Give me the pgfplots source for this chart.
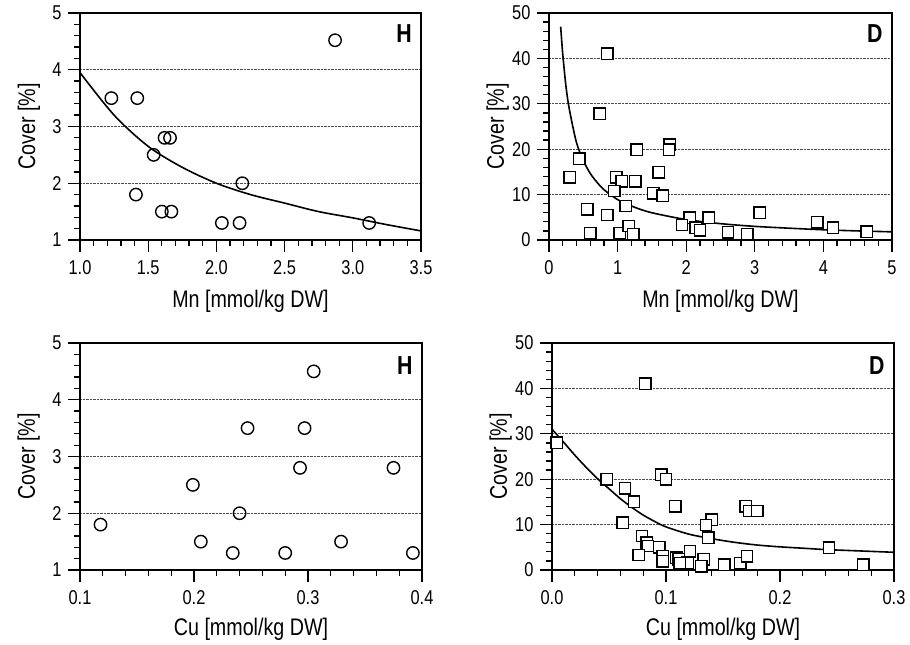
\documentclass[border=0pt]{standalone}
\usepackage{fontspec}
\setmainfont{Liberation Sans}[FakeStretch=0.82]
\usepackage{pgfplots}
\pgfplotsset{compat=1.18}
\pgfplotsset{
  panel/.style={
    scale only axis,
    width=341pt, height=227pt,
    axis line style={line width=1.5pt},
    every tick/.style={black, line width=1.3pt},
    tick align=outside,
    major tick length=12pt,
    minor tick length=6pt,
    xtick pos=left, ytick pos=left,
    minor x tick num=4, minor y tick num=4,
    ymajorgrids,
    major grid style={densely dotted, black!70, line width=0.9pt},
    tick label style={font=\fontsize{20}{22}\selectfont},
    xticklabel style={yshift=-5pt},
    yticklabel style={xshift=-3pt},
    label style={font=\fontsize{24}{27}\selectfont},
    /pgf/number format/assume math mode=true,
    xlabel style={at={(axis description cs:0.5,-0.27)}, anchor=center},
    ylabel style={at={(axis description cs:-0.15,0.5)}, anchor=center},
    ylabel={Cover [\%]},
    anchor=south west,
  },
  circ/.style={only marks, mark=o, mark size=6.2pt, mark options={line width=1.4pt, fill=white}},
  sq/.style={only marks, mark=square*, mark size=5.7pt, mark options={line width=1.4pt, fill=white, draw=black}},
  fit/.style={no marks, smooth, black, line width=1.6pt},
}
\begin{document}
\begin{tikzpicture}
\useasboundingbox (0,0) rectangle (910pt,645pt);
% ---------- top left: H, Mn
\begin{axis}[panel, at={(80pt,405pt)},
  xmin=1, xmax=3.5, ymin=1, ymax=5,
  xtick={1,1.5,2,2.5,3,3.5}, ytick={1,2,3,4,5},
  xticklabel style={/pgf/number format/.cd, fixed, fixed zerofill, precision=1},
  xlabel={Mn [mmol/kg DW]}]
\addplot[fit] coordinates {(1.0,3.95) (1.25,3.2) (1.5,2.65) (1.75,2.28) (2.0,2.0) (2.25,1.8) (2.5,1.65) (2.75,1.5) (3.0,1.39) (3.25,1.27) (3.5,1.16)};
\addplot[circ] coordinates {(1.23,3.5) (1.42,3.5) (2.87,4.52) (1.62,2.8) (1.66,2.8) (1.54,2.5) (2.19,2.0) (1.41,1.8) (1.60,1.5) (1.67,1.5) (2.04,1.3) (2.17,1.3) (3.12,1.3)};
\node[font=\bfseries\fontsize{26}{28}\selectfont] at (rel axis cs:0.95,0.91) {H};
\end{axis}
% ---------- top right: D, Mn
\begin{axis}[panel, at={(549pt,405pt)}, width=343pt,
  xmin=0, xmax=5, ymin=0, ymax=50,
  xtick={0,1,2,3,4,5}, ytick={0,10,20,30,40,50},
  xlabel={Mn [mmol/kg DW]}]
\addplot[fit] coordinates {(0.17,47) (0.2,41) (0.25,33.5) (0.3,28.5) (0.4,21.5) (0.5,17.5) (0.6,14.7) (0.7,12.7) (0.8,11.1) (1.0,8.9) (1.25,7.2) (1.5,6.0) (2.0,4.5) (2.5,3.6) (3.0,3.0) (3.5,2.6) (4.0,2.25) (4.5,2.0) (5.0,1.8)};
\addplot[sq] coordinates {(0.85,41) (0.74,27.8) (0.44,17.9) (0.30,13.8) (1.28,19.9) (1.76,21) (1.75,19.9) (1.60,14.9) (0.98,13.8) (1.06,12.9) (1.26,12.9) (0.95,10.8) (1.52,10.3) (1.66,9.8) (1.12,7.5) (0.56,6.8) (0.85,5.5) (0.60,1.5) (1.03,1.5) (1.16,3.1) (1.23,1.3) (2.05,4.9) (1.94,3.3) (2.14,2.7) (2.20,2.1) (2.33,4.9) (2.61,1.7) (2.89,1.3) (3.07,6.0) (3.91,3.9) (4.14,2.7) (4.63,1.8)};
\node[font=\bfseries\fontsize{26}{28}\selectfont] at (rel axis cs:0.95,0.91) {D};
\end{axis}
% ---------- bottom left: H, Cu
\begin{axis}[panel, at={(80pt,75pt)}, width=342pt,
  xmin=0.1, xmax=0.4, ymin=1, ymax=5,
  xtick={0.1,0.2,0.3,0.4}, ytick={1,2,3,4,5},
  xticklabel style={/pgf/number format/.cd, fixed, fixed zerofill, precision=1},
  xlabel style={at={(axis description cs:0.5,-0.262)}},
  xlabel={Cu [mmol/kg DW]}]
\addplot[circ] coordinates {(0.118,1.8) (0.199,2.5) (0.206,1.5) (0.240,2.0) (0.247,3.5) (0.234,1.3) (0.280,1.3) (0.293,2.8) (0.297,3.5) (0.305,4.5) (0.329,1.5) (0.375,2.8) (0.392,1.3)};
\node[font=\bfseries\fontsize{26}{28}\selectfont] at (rel axis cs:0.95,0.90) {H};
\end{axis}
% ---------- bottom right: D, Cu
\begin{axis}[panel, at={(552pt,75pt)}, width=342pt,
  xmin=0, xmax=0.3, ymin=0, ymax=50,
  xtick={0,0.1,0.2,0.3}, ytick={0,10,20,30,40,50},
  xticklabel style={/pgf/number format/.cd, fixed, fixed zerofill, precision=1},
  xlabel style={at={(axis description cs:0.5,-0.262)}},
  xlabel={Cu [mmol/kg DW]}]
\addplot[fit] coordinates {(0,31) (0.01,28.2) (0.02,25.3) (0.03,22.6) (0.04,20.1) (0.05,17.9) (0.06,15.7) (0.07,13.8) (0.08,12.1) (0.09,10.7) (0.10,9.5) (0.12,7.9) (0.14,6.9) (0.16,6.1) (0.18,5.5) (0.20,5.1) (0.22,4.8) (0.24,4.5) (0.26,4.3) (0.28,4.1) (0.30,3.9)};
\addplot[sq] coordinates {(0.082,41) (0.004,28) (0.048,20) (0.064,18) (0.072,15) (0.062,10.4) (0.096,21) (0.100,20) (0.108,14) (0.170,14) (0.173,13) (0.180,13) (0.140,11.1) (0.135,9.9) (0.137,7.1) (0.079,7.5) (0.083,6.0) (0.084,5.3) (0.094,5.0) (0.076,3.3) (0.097,3.0) (0.097,1.9) (0.109,2.7) (0.111,2.4) (0.121,4.1) (0.119,1.6) (0.133,2.4) (0.131,0.8) (0.151,1.2) (0.165,1.5) (0.171,3.0) (0.243,4.9) (0.273,1.2) (0.112,1.5)};
\node[font=\bfseries\fontsize{26}{28}\selectfont] at (rel axis cs:0.95,0.90) {D};
\end{axis}
\end{tikzpicture}
\end{document}
